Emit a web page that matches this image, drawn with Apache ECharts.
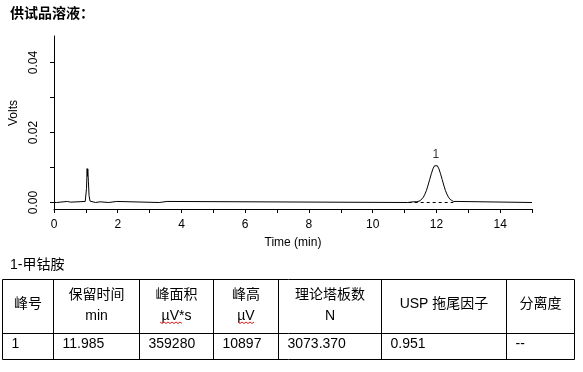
<!DOCTYPE html>
<html><head><meta charset="utf-8">
<script src="https://cdn.jsdelivr.net/npm/echarts@6/dist/echarts.min.js"></script>
<style>html,body{margin:0;padding:0;background:#fff}#c{width:583px;height:372px}</style>
</head><body><div id="c"></div>
<script>
// ---- data ----
const chartTitle = '供试品溶液：';
const tableTitle = '1-甲钴胺';
const xAxisName = 'Time (min)';
const yAxisName = 'Volts';
const times = [0.00,0.08,0.09,0.42,0.43,0.52,0.53,0.98,1.00,1.02,1.04,1.05,1.06,1.08,1.10,1.13,1.16,1.30,1.31,1.45,1.46,1.72,1.73,1.97,1.98,3.30,3.31,3.55,3.56,11.10,11.12,11.27,11.39,11.44,11.49,11.54,11.59,11.64,11.69,11.74,11.79,11.84,11.89,11.94,11.985,12.03,12.08,12.13,12.18,12.23,12.28,12.33,12.38,12.43,12.48,12.53,12.65,12.66,15.00];
const volts = [0.0000,0.0000,0.0003,0.0003,0.0001,0.0001,0.0003,0.0003,0.0005,0.0040,0.0097,0.0075,0.0096,0.0060,0.0020,0.0004,0.0000,0.0000,0.0002,0.0002,0.0000,0.0000,0.0003,0.0003,0.0000,0.0000,0.0003,0.0003,0.0000,0.0000,0.0002,0.0002,0.0002,0.0003,0.0005,0.0009,0.0015,0.0024,0.0035,0.0050,0.0066,0.0082,0.0096,0.0105,0.0109,0.0105,0.0096,0.0082,0.0066,0.0050,0.0035,0.0024,0.0015,0.0009,0.0005,0.0003,0.0003,0.0000,0.0000];
const peakNames = ['1'];
const peakTimes = [11.985];
const peakHeights = [0.0109];
const peakBaseStart = [11.13];
const peakBaseEnd = [12.53];
const xTicks = [0,1,2,3,4,5,6,7,8,9,10,11,12,13,14,15];
const xTickLabels = [0,2,4,6,8,10,12,14];
const yTicks = [0,0.01,0.02,0.03,0.04];
const yTickLabels = [0,0.02,0.04];
const headerLine1 = ['峰号','保留时间','峰面积','峰高','理论塔板数','USP 拖尾因子','分离度'];
const headerLine2 = ['','min','µV*s','µV','N','',''];
const rowValues = ['1','11.985','359280','10897','3073.370','0.951','--'];

// ---- layout / style ----
const FONT = "'Liberation Sans','Noto Sans CJK SC',sans-serif";
const colX = [2.5,53.5,139.5,213.5,278.5,381.5,506.5,574.5];
const rowY = [279.5,333.5,359.5];

const seriesData = times.map((t,i)=>[t,volts[i]]);
const baseSeries = peakBaseStart.map((s,i)=>({
  type:'line', data:[[s,0],[peakBaseEnd[i],0]], symbol:'none', silent:true,
  lineStyle:{color:'#000', width:1, type:[3,3]}, z:1
}));
const peakLabelSeries = {
  type:'scatter', silent:true, symbolSize:1, itemStyle:{color:'rgba(0,0,0,0)'},
  data:peakTimes.map((t,i)=>({value:[t,peakHeights[i]], name:peakNames[i]})),
  label:{show:true, position:'top', distance:3, formatter:p=>p.name, color:'#000', fontSize:12, fontFamily:FONT},
  z:3
};

const graphics = [];
graphics.push({type:'text', x:10, y:14, style:{text:chartTitle, fill:'#000', font:"bold 14px "+FONT, align:'left', verticalAlign:'middle'}});
graphics.push({type:'text', x:10, y:265, style:{text:tableTitle, fill:'#000', font:"14px "+FONT, align:'left', verticalAlign:'middle'}});
rowY.forEach(y=>graphics.push({type:'line', shape:{x1:colX[0],y1:y,x2:colX[colX.length-1],y2:y}, style:{stroke:'#000',lineWidth:1}}));
colX.forEach(x=>graphics.push({type:'line', shape:{x1:x,y1:rowY[0],x2:x,y2:rowY[2]}, style:{stroke:'#000',lineWidth:1}}));
headerLine1.forEach((h,i)=>{
  const cx = (colX[i]+colX[i+1])/2;
  if (headerLine2[i]) {
    graphics.push({type:'text', x:cx, y:295, style:{text:h, fill:'#000', font:"14px "+FONT, align:'center', verticalAlign:'middle'}});
    graphics.push({type:'text', x:cx, y:316, style:{text:headerLine2[i], fill:'#000', font:"14px "+FONT, align:'center', verticalAlign:'middle'}});
  } else {
    graphics.push({type:'text', x:cx, y:304, style:{text:h, fill:'#000', font:"14px "+FONT, align:'center', verticalAlign:'middle'}});
  }
});
rowValues.forEach((v,i)=>{
  graphics.push({type:'text', x:colX[i]+9, y:344, style:{text:v, fill:'#000', font:"14px "+FONT, align:'left', verticalAlign:'middle'}});
});
// spell-check squiggles under µV
function squiggle(x0,x1,y){
  const pts=[]; let up=true;
  for(let x=x0;x<=x1;x+=2){pts.push([x, up?y:y+1.5]); up=!up;}
  return {type:'polyline', shape:{points:pts}, style:{stroke:'#e02020', lineWidth:1, fill:null}};
}
graphics.push(squiggle(160,182,322));
graphics.push(squiggle(238,255,322));

const chart = echarts.init(document.getElementById('c'), null, {renderer:'canvas'});
chart.setOption({
  backgroundColor:'#fff',
  animation:false,
  grid:{left:54, right:51, top:36, bottom:163, containLabel:false},
  xAxis:{
    type:'value', min:0, max:15, interval:1,
    name:xAxisName, nameLocation:'middle', nameGap:28,
    nameTextStyle:{color:'#000', fontSize:12, fontFamily:FONT},
    axisLine:{show:true, onZero:false, lineStyle:{color:'#000', width:1}},
    axisTick:{show:true, length:4, lineStyle:{color:'#000'}, customValues:xTicks},
    axisLabel:{color:'#000', fontSize:12, fontFamily:FONT, margin:10, customValues:xTickLabels},
    splitLine:{show:false}
  },
  yAxis:{
    type:'value', min:-0.001858, max:0.0476,
    name:yAxisName, nameLocation:'middle', nameRotate:90, nameGap:31,
    nameTextStyle:{color:'#000', fontSize:12, fontFamily:FONT, padding:[0,0,0,19]},
    axisLine:{show:true, onZero:false, lineStyle:{color:'#000', width:1}},
    axisTick:{show:true, length:4, lineStyle:{color:'#000'}, customValues:yTicks},
    axisLabel:{color:'#000', fontSize:12, fontFamily:FONT, margin:14, rotate:90, customValues:yTickLabels, formatter:v=>v.toFixed(2)},
    splitLine:{show:false}
  },
  series:[{
    type:'line', data:seriesData, symbol:'none', showSymbol:false, silent:true,
    lineStyle:{color:'#000', width:1}, z:2
  }].concat(baseSeries, [peakLabelSeries]),
  graphic:graphics
});
</script>
</body></html>
